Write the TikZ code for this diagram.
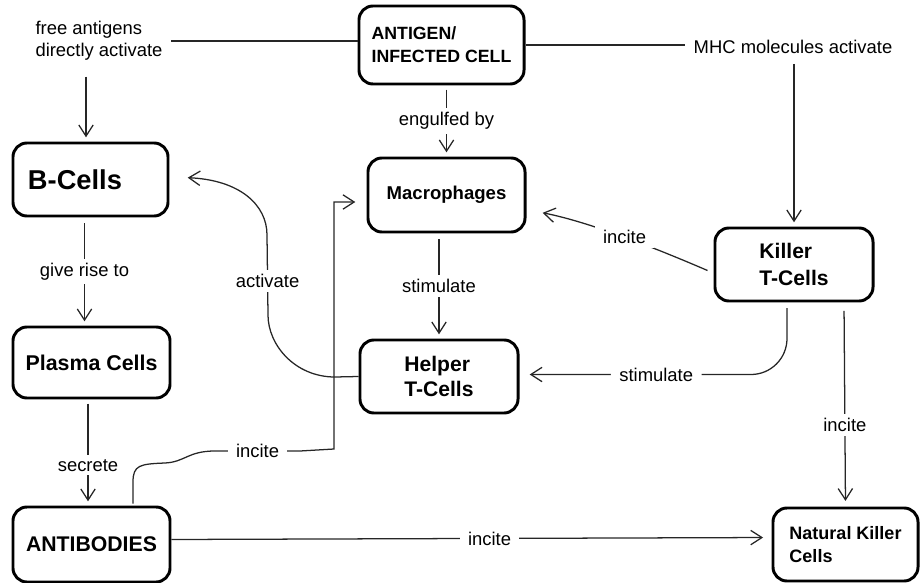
\documentclass[tikz,border=0pt]{standalone}
\usepackage{fontspec}
\setmainfont{Liberation Sans}
\usetikzlibrary{arrows.meta,positioning,calc}

\begin{document}
\begin{tikzpicture}[x=0.025cm,y=-0.025cm,
  cellbox/.style={draw, line width=2.1pt, rounded corners=0.35cm, align=left, inner sep=0pt},
  linktext/.style={fill=white, inner xsep=6pt, inner ysep=3pt, align=left, font=\fontsize{13.1}{15.6}\selectfont},
  plain/.style={line width=0.9pt, draw=black!85},
  link/.style={plain, -{Straight Barb[length=0.28cm,width=0.36cm]}, shorten >=3pt}]
\useasboundingbox (0,0) rectangle (920,583);

\node[cellbox, minimum width=4.125cm, minimum height=1.95cm, font=\bfseries\fontsize{12.6}{16.4}\selectfont] (antigen) at (441.5,45) {ANTIGEN/\\INFECTED CELL};
\node[cellbox, minimum width=3.875cm, minimum height=1.825cm, text width=3.125cm, inner xsep=0.375cm, font=\bfseries\fontsize{19.4}{23}\selectfont] (bcells) at (90.5,179.5) {B-Cells};
\node[cellbox, minimum width=3.925cm, minimum height=1.775cm, font=\bfseries\fontsize{15.2}{18}\selectfont] (plasma) at (91.5,362.5) {Plasma Cells};
\node[cellbox, minimum width=3.925cm, minimum height=1.875cm, font=\bfseries\fontsize{15.1}{18}\selectfont] (antibodies) at (91.5,544.5) {ANTIBODIES};
\node[cellbox, minimum width=3.925cm, minimum height=1.85cm, font=\bfseries\fontsize{13.2}{16}\selectfont] (macro) at (446.5,195) {Macrophages};
\node[cellbox, minimum width=3.95cm, minimum height=1.825cm, font=\bfseries\fontsize{15}{17.8}\selectfont] (helper) at (439,376.5) {Helper\\T-Cells};
\node[cellbox, minimum width=3.95cm, minimum height=1.825cm, font=\bfseries\fontsize{15}{19.2}\selectfont] (killer) at (794,264.5) {Killer\\T-Cells};
\node[cellbox, minimum width=3.625cm, minimum height=1.825cm, font=\bfseries\fontsize{12.8}{16.4}\selectfont] (nk) at (845.5,544.5) {Natural Killer\\Cells};

\node[linktext] (freeact) at (99,41) {free antigens\\directly activate};
\node[linktext] (mhc) at (793,47) {MHC molecules activate};

\draw[plain] (freeact.east) -- (freeact.east -| antigen.west);
\draw[link, shorten <=5pt] ($(bcells.north)+(-4.5,-72)$) -- ($(bcells.north)+(-4.5,0)$);
\draw[plain] (antigen.east) -- (antigen.east -| mhc.west);
\draw[link, shorten <=4pt] (mhc.south -| killer.north) -- (killer.north);
\draw[link, shorten <=3pt] (antigen.south -| macro.north) -- node[linktext] {engulfed by} (macro.north);

\draw[link, shorten <=4pt] ($(bcells.south)+(-6,0)$) -- node[linktext] {give rise to} ($(plasma.north)+(-7,0)$);
\draw[link, shorten <=3pt] ($(plasma.south)+(-3.5,0)$) -- node[linktext, pos=0.62] {secrete} ($(antibodies.north)+(-3.5,0)$);
\draw[link, shorten >=6pt] ($(antibodies.east)+(0,-5)$) -- node[linktext, pos=0.53] {incite} ($(nk.west)+(0,-7)$);
\draw[link, shorten <=6pt, shorten >=4pt] ($(killer.south -| nk.north)+(-1.5,0)$) -- node[linktext, pos=0.6] {incite} (nk.north);
\draw[link, shorten <=4pt] (macro.south -| helper.north) -- node[linktext] {stimulate} (helper.north);

\draw[link] ($(killer.west)+(-6,6)$) .. controls (660,250) and (590,222) .. node[linktext] {incite} ($(macro.east)+(12,17)$);
\draw[link, rounded corners=0.9cm, shorten <=4pt] ($(killer.south)+(-7,0)$) |- node[linktext, pos=0.75] {stimulate} ($(helper.east)+(6,-2)$);
\draw[link] (helper.west) -- (335,377) .. controls (295,377) and (268,345) .. (268,315) -- node[linktext, pos=0.43] {activate} (267,235) .. controls (267,205) and (240,180) .. ($(bcells.east)+(14,-2)$);
\draw[link] ($(antibodies.north)+(41.5,-2)$) -- (133,482) .. controls (133,465) and (140,464) .. (165,463) .. controls (185,462) and (188,451) .. (215,451) -- node[linktext] {incite} (300,451) -- (334,449) -- (334,202) -- ($(macro.west)+(-7,7)$);

\end{tikzpicture}
\end{document}
